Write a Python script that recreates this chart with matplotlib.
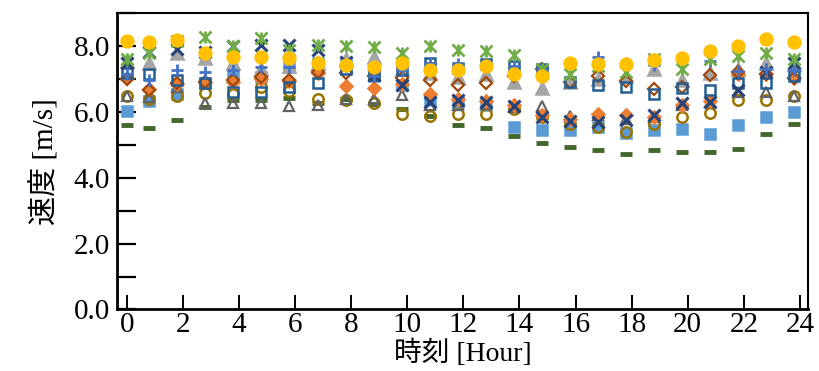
import matplotlib
matplotlib.use("Agg")
import matplotlib.pyplot as plt
from matplotlib.ticker import MultipleLocator, FormatStrFormatter

# hourly sample times
hours = [0, 0.8, 1.8, 2.8, 3.8, 4.8, 5.8, 6.8, 7.8, 8.8, 9.8, 10.8, 11.8,
         12.8, 13.8, 14.8, 15.8, 16.8, 17.8, 18.8, 19.8, 20.8, 21.8, 22.8, 23.8]

gold_circle = [8.16, 8.13, 8.20, 7.78, 7.68, 7.68, 7.63, 7.48, 7.42, 7.37, 7.48, 7.27, 7.27,
               7.40, 7.15, 7.09, 7.50, 7.45, 7.45, 7.58, 7.63, 7.86, 8.00, 8.22, 8.13]
green_star = [7.60, 7.80, 8.15, 8.27, 8.00, 8.24, 7.88, 8.03, 8.00, 7.98, 7.80, 8.00, 7.90,
              7.86, 7.73, 7.30, 7.17, 7.40, 7.22, 7.62, 7.32, 7.60, 7.70, 7.78, 7.60]
blue_plus = [7.15, 6.97, 7.29, 7.22, 7.27, 7.37, 7.37, 7.45, 7.40, 7.10, 7.27, 7.50, 7.45,
             7.40, 7.40, 7.30, 7.50, 7.68, 7.48, 7.43, 7.63, 7.55, 7.25, 7.30, 7.27]
navy_x = [7.50, 7.83, 7.93, 7.83, 8.00, 8.03, 8.03, 7.90, 7.53, 7.12, 6.82, 6.30, 6.36,
          6.30, 6.18, 5.86, 5.72, 5.70, 5.75, 5.92, 6.26, 6.31, 6.67, 7.22, 7.50]
hollow_square = [7.20, 7.17, 6.97, 6.87, 6.61, 6.61, 6.77, 6.87, 7.30, 7.12, 7.27, 7.50, 7.35,
                 7.45, 7.40, 7.32, 6.92, 6.82, 6.77, 6.56, 6.72, 6.67, 6.87, 6.87, 7.10]
brown_diamond = [7.00, 6.67, 6.87, 6.92, 6.97, 7.07, 6.97, 7.22, 7.20, 7.10, 7.05, 6.97, 6.82,
                 6.89, 7.09, 7.30, 6.92, 7.09, 6.95, 6.69, 6.77, 7.12, 7.22, 7.15, 7.02]
orange_diamond = [7.05, 6.70, 6.85, 6.90, 6.90, 7.00, 6.95, 7.20, 6.80, 6.72, 6.85, 6.54, 6.40,
                  6.35, 6.22, 5.90, 5.80, 5.94, 5.90, 5.85, 6.20, 6.35, 7.15, 7.15, 7.05]
gray_triangle = [7.55, 7.50, 7.78, 7.63, 7.50, 7.30, 7.40, 7.50, 7.60, 7.68, 7.30, 7.20, 7.07,
                 7.17, 6.92, 6.72, 6.90, 7.00, 7.10, 7.30, 6.97, 7.20, 7.30, 7.48, 7.45]
hollow_triangle = [6.50, 6.45, 6.77, 6.26, 6.28, 6.28, 6.18, 6.20, 6.40, 6.41, 6.51, 6.20, 6.20,
                   6.25, 6.15, 6.18, 5.88, 5.90, 5.80, 5.85, 6.20, 6.30, 6.60, 6.61, 6.50]
olive_circle = [6.48, 6.41, 6.48, 6.58, 6.54, 6.77, 6.64, 6.41, 6.36, 6.28, 5.95, 5.88, 5.95,
                5.95, 6.10, 5.86, 5.65, 5.56, 5.40, 5.65, 5.84, 5.98, 6.36, 6.36, 6.48]
light_square = [6.04, 6.35, 6.55, 6.87, 7.17, 7.07, 7.37, 7.48, 7.45, 7.10, 6.82, 6.36, 6.30,
                6.20, 5.56, 5.45, 5.45, 5.55, 5.35, 5.45, 5.47, 5.33, 5.60, 5.86, 6.01]
green_dash = [5.62, 5.53, 5.77, 6.14, 6.36, 6.36, 6.44, 6.28, 6.40, 6.24, 6.08, 5.88, 5.62,
              5.50, 5.27, 5.05, 4.94, 4.84, 4.72, 4.84, 4.79, 4.78, 4.89, 5.32, 5.63]

plt.rcParams['font.family'] = ['Liberation Serif', 'Noto Sans CJK JP']

fig = plt.figure(figsize=(8.19, 3.71), dpi=100)
ax = fig.add_axes([0.1425, 0.166, 0.8445, 0.798])


def pts(y, marker, color, size, filled=True, mew=1.8):
    ax.plot(hours, y, linestyle='none', marker=marker, markersize=size,
            markerfacecolor=color if filled else 'none',
            markeredgecolor=color, markeredgewidth=mew)


pts(green_dash, '_', '#43682B', 8, mew=3.5)
pts(light_square, 's', '#5B9BD5', 7.5)
pts(olive_circle, 'o', '#997300', 7.5, filled=False, mew=1.8)
pts(hollow_triangle, '^', '#636363', 7.5, filled=False, mew=1.6)
pts(gray_triangle, '^', '#A5A5A5', 8)
pts(orange_diamond, 'D', '#ED7D31', 6.5)
pts(brown_diamond, 'D', '#9E480E', 6, filled=False, mew=1.6)
pts(hollow_square, 's', '#255E91', 7.5, filled=False, mew=1.8)
pts(navy_x, 'x', '#264478', 8.5, mew=2.2)
pts(blue_plus, '+', '#4472C4', 9, mew=2)
# star marker: an x with a vertical bar through it
pts(green_star, 'x', '#70AD47', 8.5, mew=2)
pts(green_star, '|', '#70AD47', 9, mew=2)
pts(gold_circle, 'o', '#FFC000', 8.5)

ax.set_xlim(-0.36, 24.3)
ax.set_ylim(0, 9)
ax.xaxis.set_major_locator(MultipleLocator(2))
ax.yaxis.set_major_locator(MultipleLocator(2))
ax.yaxis.set_minor_locator(MultipleLocator(1))
ax.yaxis.set_major_formatter(FormatStrFormatter('%.1f'))

ax.tick_params(axis='y', which='both', direction='in', length=14, width=1.6,
               labelsize=21, pad=5)
ax.tick_params(axis='x', which='major', direction='in', length=10, width=1.4,
               labelsize=21, pad=2)

for side in ['left', 'bottom']:
    ax.spines[side].set_linewidth(2)
for side in ['top', 'right']:
    ax.spines[side].set_linewidth(1.5)

ax.set_xlabel('時刻 [Hour]', fontsize=20, labelpad=1)
ax.set_ylabel('速度 [m/s]', fontsize=21, labelpad=10)

fig.savefig('out.png', dpi=100)
